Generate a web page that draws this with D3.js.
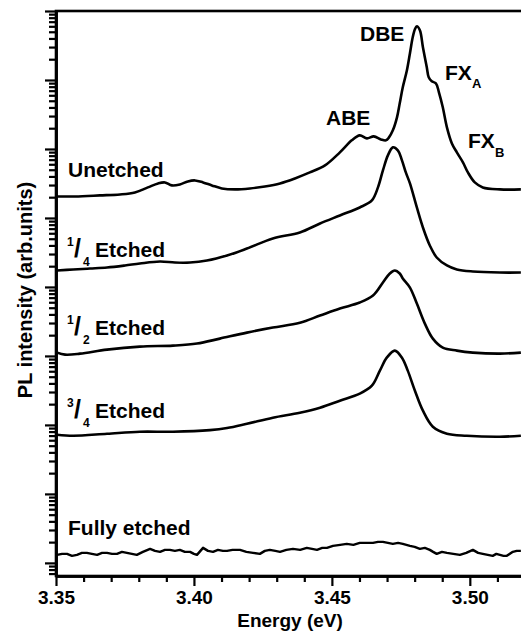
<!DOCTYPE html>
<html>
<head>
<meta charset="utf-8">
</head>
<body>
<style>

    body {
        margin: 0;
        background: #fff;
    }

    svg text {
        font-family: "Liberation Sans", Arial, sans-serif;
        font-weight: bold;
        fill: #000;
        font-size: 21px;
    }

    path.spectrum {
        fill: none;
        stroke: #000;
        stroke-width: 2.6px;
        stroke-linejoin: round;
    }

    .axis path {
        stroke: #000;
        stroke-width: 2.6px;
    }

    .axis line {
        stroke: #000;
        stroke-width: 2.2px;
    }

    .axis text {
        font-size: 19px;
    }

</style>
<script src="https://cdn.jsdelivr.net/npm/d3@7/dist/d3.min.js"></script>
<script>

    // [energy (eV), log10 PL intensity]
    var unetched = [
        [3.3500, 5.312], [3.3569, 5.312], [3.3659, 5.327], [3.3732, 5.341], [3.3786, 5.370],
        [3.3833, 5.443], [3.3870, 5.501], [3.3895, 5.515], [3.3920, 5.472], [3.3949, 5.486],
        [3.3978, 5.530], [3.4004, 5.544], [3.4033, 5.515], [3.4065, 5.472], [3.4101, 5.428],
        [3.4149, 5.414], [3.4203, 5.428], [3.4257, 5.457], [3.4312, 5.501], [3.4366, 5.573],
        [3.4420, 5.660], [3.4475, 5.762], [3.4529, 5.951], [3.4572, 6.125], [3.4601, 6.197],
        [3.4627, 6.154], [3.4652, 6.183], [3.4678, 6.139], [3.4696, 6.125], [3.4707, 6.168],
        [3.4721, 6.270], [3.4736, 6.459], [3.4746, 6.662], [3.4757, 6.894], [3.4772, 7.141],
        [3.4783, 7.388], [3.4793, 7.620], [3.4801, 7.736], [3.4808, 7.779], [3.4819, 7.721],
        [3.4830, 7.475], [3.4844, 7.184], [3.4851, 7.039], [3.4862, 6.981], [3.4877, 6.952],
        [3.4888, 6.822], [3.4902, 6.604], [3.4917, 6.314], [3.4935, 6.081], [3.4953, 5.951],
        [3.4975, 5.806], [3.4993, 5.660], [3.5018, 5.515], [3.5047, 5.443], [3.5109, 5.414],
        [3.5185, 5.414]
    ];

    var quarterEtched = [
        [3.3504, 4.238], [3.3562, 4.253], [3.3623, 4.267], [3.3685, 4.282], [3.3750, 4.311],
        [3.3804, 4.340], [3.3877, 4.369], [3.3931, 4.354], [3.3986, 4.354], [3.4047, 4.383],
        [3.4120, 4.456], [3.4192, 4.557], [3.4286, 4.703], [3.4384, 4.790], [3.4457, 4.920],
        [3.4529, 5.036], [3.4601, 5.152], [3.4645, 5.254], [3.4667, 5.443], [3.4685, 5.689],
        [3.4703, 5.907], [3.4721, 6.023], [3.4739, 5.980], [3.4754, 5.835], [3.4768, 5.660],
        [3.4783, 5.501], [3.4808, 5.152], [3.4830, 4.862], [3.4855, 4.601], [3.4880, 4.427],
        [3.4917, 4.311], [3.4953, 4.253], [3.5011, 4.224], [3.5109, 4.209], [3.5185, 4.209]
    ];

    var halfEtched = [
        [3.3504, 3.048], [3.3533, 3.019], [3.3587, 3.033], [3.3685, 3.091], [3.3804, 3.135],
        [3.3924, 3.150], [3.4011, 3.179], [3.4094, 3.251], [3.4192, 3.338], [3.4286, 3.411],
        [3.4384, 3.480], [3.4457, 3.585], [3.4529, 3.687], [3.4601, 3.774], [3.4649, 3.875],
        [3.4685, 4.064], [3.4710, 4.195], [3.4728, 4.238], [3.4746, 4.195], [3.4757, 4.122],
        [3.4783, 3.991], [3.4808, 3.759], [3.4837, 3.469], [3.4866, 3.251], [3.4902, 3.121],
        [3.4953, 3.077], [3.5011, 3.048], [3.5109, 3.033], [3.5185, 3.048]
    ];

    var threeQuarterEtched = [
        [3.3504, 1.858], [3.3562, 1.843], [3.3685, 1.872], [3.3804, 1.901], [3.3924, 1.901],
        [3.4058, 1.925], [3.4120, 1.955], [3.4192, 2.017], [3.4286, 2.105], [3.4384, 2.177],
        [3.4457, 2.250], [3.4529, 2.351], [3.4601, 2.453], [3.4645, 2.569], [3.4674, 2.787],
        [3.4699, 2.975], [3.4728, 3.077], [3.4754, 2.975], [3.4775, 2.787], [3.4801, 2.496],
        [3.4830, 2.206], [3.4866, 1.974], [3.4917, 1.872], [3.4989, 1.843], [3.5109, 1.829],
        [3.5185, 1.843]
    ];

    var fullyEtched = [
        [3.3504, 0.116], [3.3522, 0.131], [3.3540, 0.131], [3.3558, 0.102], [3.3576, 0.116],
        [3.3594, 0.145], [3.3612, 0.145], [3.3630, 0.131], [3.3649, 0.116], [3.3667, 0.145],
        [3.3685, 0.145], [3.3703, 0.131], [3.3721, 0.131], [3.3739, 0.160], [3.3757, 0.145],
        [3.3775, 0.131], [3.3793, 0.116], [3.3815, 0.160], [3.3841, 0.203], [3.3859, 0.174],
        [3.3877, 0.160], [3.3895, 0.189], [3.3913, 0.189], [3.3931, 0.174], [3.3949, 0.189],
        [3.3967, 0.160], [3.3986, 0.160], [3.4000, 0.131], [3.4011, 0.116], [3.4033, 0.218],
        [3.4051, 0.174], [3.4069, 0.160], [3.4087, 0.189], [3.4105, 0.174], [3.4120, 0.174],
        [3.4140, 0.189], [3.4167, 0.189], [3.4190, 0.160], [3.4214, 0.145], [3.4239, 0.131],
        [3.4257, 0.174], [3.4275, 0.189], [3.4295, 0.174], [3.4312, 0.160], [3.4335, 0.189],
        [3.4359, 0.203], [3.4385, 0.189], [3.4409, 0.218], [3.4428, 0.203], [3.4446, 0.189],
        [3.4465, 0.218], [3.4482, 0.218], [3.4504, 0.247], [3.4530, 0.261], [3.4554, 0.276],
        [3.4578, 0.261], [3.4601, 0.290], [3.4625, 0.290], [3.4649, 0.290], [3.4667, 0.305],
        [3.4685, 0.305], [3.4703, 0.290], [3.4721, 0.276], [3.4740, 0.290], [3.4757, 0.276],
        [3.4783, 0.247], [3.4800, 0.232], [3.4819, 0.203], [3.4837, 0.218], [3.4855, 0.189],
        [3.4867, 0.160], [3.4880, 0.131], [3.4899, 0.160], [3.4917, 0.145], [3.4940, 0.131],
        [3.4964, 0.116], [3.4987, 0.145], [3.5011, 0.189], [3.5030, 0.145], [3.5047, 0.131],
        [3.5065, 0.116], [3.5083, 0.102], [3.5096, 0.131], [3.5109, 0.116], [3.5122, 0.102],
        [3.5134, 0.102], [3.5156, 0.160], [3.5170, 0.174], [3.5185, 0.174]
    ];

    var xMajorTicks = [3.35, 3.40, 3.45, 3.50];
    var xMinorTicks = [3.36, 3.37, 3.38, 3.39, 3.41, 3.42, 3.43, 3.44, 3.46, 3.47, 3.48, 3.49, 3.51, 3.52];

    var width = 521;
    var height = 640;

    var svg = d3.select("body").append("svg")
        .attr("width", width)
        .attr("height", height);

    var x = d3.scaleLinear()
        .domain([3.35, 3.52])
        .range([56, 525]);

    var y = d3.scaleLog()
        .domain([Math.pow(10, -0.19), 1e8])
        .range([576, 11]);

    // log axis ticks: decades and 2..9 in between
    var yMajorTicks = [];
    var yMinorTicks = [];
    for (var k = -1; k <= 7; k++) {
        for (var m = 1; m <= 9; m++) {
            var v = m * Math.pow(10, k);
            if (v < y.domain()[0] || v > y.domain()[1]) continue;
            if (m === 1) yMajorTicks.push(v); else yMinorTicks.push(v);
        }
    }
    yMajorTicks.push(1e8);

    // frame
    svg.append("rect")
        .attr("x", x.range()[0])
        .attr("y", y.range()[1])
        .attr("width", x.range()[1] - x.range()[0])
        .attr("height", y.range()[0] - y.range()[1])
        .style("fill", "none")
        .style("stroke", "#000")
        .style("stroke-width", "2.6px");

    svg.append("g")
        .attr("class", "axis")
        .attr("transform", "translate(0," + y.range()[0] + ")")
        .call(d3.axisBottom(x).tickValues(xMinorTicks).tickSize(6).tickSizeOuter(0).tickFormat(""));

    svg.append("g")
        .attr("class", "axis")
        .attr("transform", "translate(0," + y.range()[0] + ")")
        .call(d3.axisBottom(x).tickValues(xMajorTicks).tickSize(10).tickSizeOuter(0)
            .tickPadding(5).tickFormat(d3.format(".2f")));

    svg.append("g")
        .attr("class", "axis")
        .attr("transform", "translate(" + x.range()[0] + ",0)")
        .call(d3.axisLeft(y).tickValues(yMinorTicks).tickSize(7).tickSizeOuter(0).tickFormat(""));

    svg.append("g")
        .attr("class", "axis")
        .attr("transform", "translate(" + x.range()[0] + ",0)")
        .call(d3.axisLeft(y).tickValues(yMajorTicks).tickSize(11).tickSizeOuter(0).tickFormat(""));

    var line = d3.line()
        .x(function (d) { return x(d[0]); })
        .y(function (d) { return y(Math.pow(10, d[1])); })
        .curve(d3.curveCatmullRom.alpha(0.5));

    [unetched, quarterEtched, halfEtched, threeQuarterEtched].forEach(function (s) {
        svg.append("path")
            .datum(s)
            .attr("class", "spectrum")
            .attr("d", line);
    });

    svg.append("path")
        .datum(fullyEtched)
        .attr("class", "spectrum")
        .style("stroke-width", "2.4px")
        .attr("d", line.curve(d3.curveLinear));

    // axis titles
    svg.append("text")
        .attr("x", 290)
        .attr("y", 627)
        .attr("text-anchor", "middle")
        .style("font-size", "19px")
        .text("Energy (eV)");

    svg.append("text")
        .attr("transform", "translate(32,290) rotate(-90)")
        .attr("text-anchor", "middle")
        .style("font-size", "20px")
        .text("PL intensity (arb.units)");

    // sample labels
    svg.append("text").attr("x", 68).attr("y", 177).text("Unetched");
    svg.append("text").attr("x", 68).attr("y", 535).text("Fully etched");

    function fractionLabel(num, den, base) {
        svg.append("text").attr("x", 67).attr("y", base - 11).style("font-size", "12px").text(num);
        svg.append("text").attr("x", 74).attr("y", base).style("font-size", "25px").text("/");
        svg.append("text").attr("x", 83).attr("y", base + 9).style("font-size", "12px").text(den);
        svg.append("text").attr("x", 95).attr("y", base).text("Etched");
    }

    fractionLabel("1", "4", 257);
    fractionLabel("1", "2", 335);
    fractionLabel("3", "4", 418);

    // peak labels
    svg.append("text").attr("x", 326).attr("y", 125).text("ABE");
    svg.append("text").attr("x", 360).attr("y", 41).text("DBE");

    svg.append("text").attr("x", 445).attr("y", 80).text("FX");
    svg.append("text").attr("x", 472).attr("y", 88).style("font-size", "13px").text("A");
    svg.append("text").attr("x", 468).attr("y", 148).text("FX");
    svg.append("text").attr("x", 495).attr("y", 157).style("font-size", "13px").text("B");

</script>
</body>
</html>
